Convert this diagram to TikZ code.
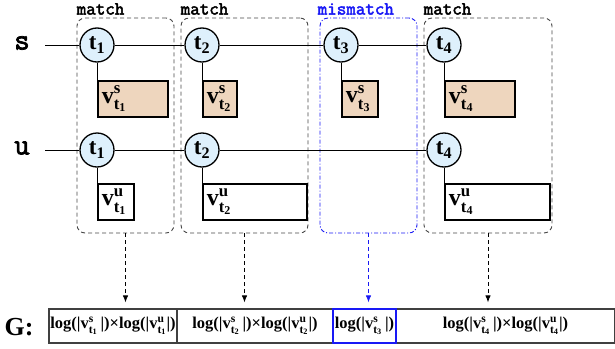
\documentclass[tikz,border=0pt]{standalone}
\usepackage{fontspec}
\setmainfont{Liberation Serif}
\newfontfamily\codefont[FakeBold=2.5]{Latin Modern Mono}
\usetikzlibrary{arrows.meta,positioning}
\definecolor{tkblue}{RGB}{222,240,252}
\definecolor{tktan}{RGB}{238,214,190}
\definecolor{grpgray}{RGB}{70,70,70}
\definecolor{mmblue}{RGB}{25,25,245}
\newcommand{\vlab}[2]{$\mathbf{v}^{\mathbf{#1}}_{\mathbf{t}_{\mathbf{#2}}}$}
\newcommand{\tlab}[1]{$\mathbf{t}_{\mathbf{#1}}$}
\tikzset{
    tok/.style={
        circle,draw=black,line width=1.3pt,fill=tkblue,
        minimum size=34pt,inner sep=0pt,
        font=\fontsize{23}{23}\selectfont\bfseries
    },
    vbox/.style={
        draw=black,line width=1.8pt,fill=#1,anchor=north west,
        inner sep=4pt,minimum height=36pt,align=left,
        font=\fontsize{24}{24}\selectfont\bfseries
    },
    vbox/.default=white,
    grp/.style={
        draw=#1,dash pattern=on 4pt off 3pt,rounded corners=8pt,
        line width=0.9pt,minimum height=215pt,inner sep=0pt
    },
    grp/.default=grpgray,
    tag/.style={
        anchor=base west,inner sep=0pt,
        font=\fontsize{18.5}{18.5}\selectfont\codefont
    },
    flow/.style={
        -{Latex[length=7pt,width=5.5pt]},dash pattern=on 4pt off 3pt,
        line width=0.9pt,draw=#1,shorten >=6pt
    },
    flow/.default=black,
    cell/.style={
        draw=#1,line width=1.2pt,minimum height=34pt,inner sep=0pt,
        font=\fontsize{16.5}{16.5}\selectfont\bfseries
    },
    cell/.default=black!75,
    seq/.style={line width=0.8pt},
    rowname/.style={font=\fontsize{30}{30}\selectfont\codefont}
}

\begin{document}
\begin{tikzpicture}[x=1pt,y=-1pt]
\useasboundingbox (0,0) rectangle (615,348);

\node[grp,minimum width=97pt] (grp1) at (125.5,125.5) {};
\node[grp,minimum width=127pt] (grp2) at (244.5,125.5) {};
\node[grp=mmblue,dash pattern=on 4pt off 2pt on 1pt off 2pt,minimum width=97pt] (grp3) at (368.5,125.5) {};
\node[grp,minimum width=128pt] (grp4) at (488,125.5) {};

\node[tag] (m1) at ([yshift=3pt]grp1.north west) {match};
\node[tag] (m2) at ([yshift=3pt]grp2.north west) {match};
\node[tag,text=mmblue,xshift=-2pt] (m3) at ([yshift=3pt]grp3.north west) {mismatch};
\node[tag] (m4) at ([yshift=3pt]grp4.north west) {match};

\node[rowname] (s) at (22,43) {s};
\node[rowname] (u) at (22,148) {u};
\coordinate (sstart) at (45,45);
\coordinate (ustart) at (45,150);

\node[tok] (ts1) at (97,45) {\tlab{1}};
\node[tok] (ts2) at (202,45) {\tlab{2}};
\node[tok] (ts3) at (341,45) {\tlab{3}};
\node[tok] (ts4) at (444,45) {\tlab{4}};

\node[tok] (tu1) at (97,150) {\tlab{1}};
\node[tok] (tu2) at (202,150) {\tlab{2}};
\node[tok] (tu4) at (444,150) {\tlab{4}};

\draw[seq] (sstart) -- (ts1) -- (ts2) -- (ts3) -- (ts4);
\draw[seq] (ustart) -- (tu1) -- (tu2) -- (tu4);

\node[vbox=tktan,text width=62pt] (vs1) at (97,80) {\vlab{s}{1}};
\node[vbox=tktan,text width=26pt] (vs2) at (202,80) {\vlab{s}{2}};
\node[vbox=tktan,text width=28pt] (vs3) at (341,80) {\vlab{s}{3}};
\node[vbox=tktan,text width=62pt] (vs4) at (444,80) {\vlab{s}{4}};

\node[vbox,text width=28pt] (vu1) at (97,183) {\vlab{u}{1}};
\node[vbox,text width=96pt] (vu2) at (202,183) {\vlab{u}{2}};
\node[vbox,text width=97pt] (vu4) at (444,183) {\vlab{u}{4}};

\foreach \t in {s1,s2,s3,s4,u1,u2,u4}
    \draw[seq] (t\t) -- (v\t.north west);

\node[font=\fontsize{26}{26}\selectfont\bfseries] (G) at (19,327) {G:};

\node[cell,minimum width=128pt] (g1) at (113,326)
{log(|\vlab{s}{1}\,|)×log(|\vlab{u}{1}|)};
\node[cell,minimum width=156pt] (g2) at (255,326)
{log(|\vlab{s}{2}\,|)×log(|\vlab{u}{2}|)};
\node[cell,minimum width=219pt] (g4) at (505.5,326)
{log(|\vlab{s}{4}\,|)×log(|\vlab{u}{4}|)};
\node[cell=mmblue,minimum width=63pt] (g3) at (364.5,326)
{log(|\vlab{s}{3}\,|)};

\draw[flow] (grp1.south) -- (grp1.south |- g1.north);
\draw[flow] (grp2.south) -- (grp2.south |- g2.north);
\draw[flow=mmblue] (grp3.south) -- (grp3.south |- g3.north);
\draw[flow] (grp4.south) -- (grp4.south |- g4.north);

\end{tikzpicture}
\end{document}
